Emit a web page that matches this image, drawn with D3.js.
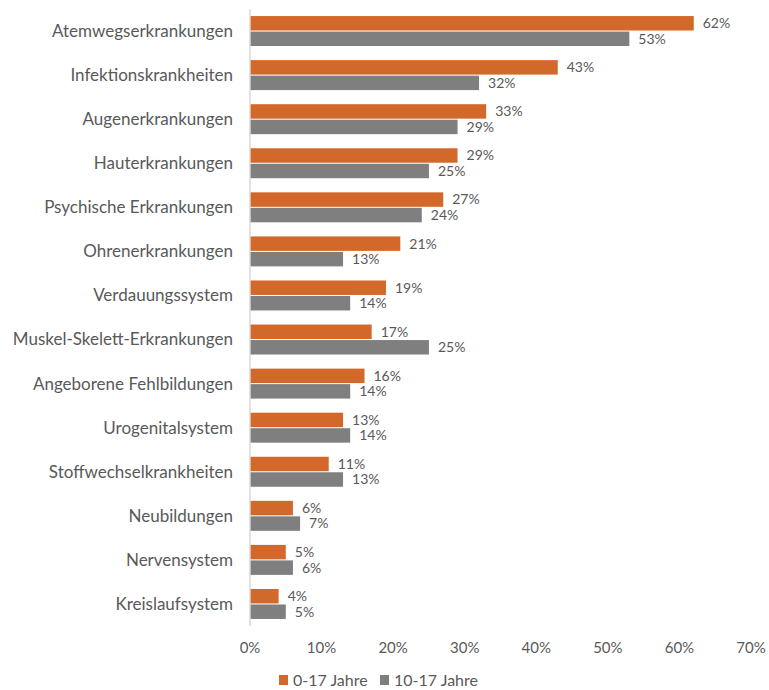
<!DOCTYPE html>
<html>
<head>
<meta charset="utf-8">
<script src="https://cdn.jsdelivr.net/npm/d3@7"></script>
<style>
  body { margin: 0; background: #fff; }
  text { font-family: Lato, "Open Sans", sans-serif; }
</style>
</head>
<body>
<svg width="769" height="690"></svg>
<script>
// categories, top to bottom
const categories = [
  'Atemwegserkrankungen', 'Infektionskrankheiten', 'Augenerkrankungen', 'Hauterkrankungen',
  'Psychische Erkrankungen', 'Ohrenerkrankungen', 'Verdauungssystem', 'Muskel-Skelett-Erkrankungen',
  'Angeborene Fehlbildungen', 'Urogenitalsystem', 'Stoffwechselkrankheiten', 'Neubildungen',
  'Nervensystem', 'Kreislaufsystem'
];
const seriesNames = ['0-17 Jahre', '10-17 Jahre'];
const values0to17 = [62, 43, 33, 29, 27, 21, 19, 17, 16, 13, 11, 6, 5, 4];
const values10to17 = [53, 32, 29, 25, 24, 13, 14, 25, 14, 14, 13, 7, 6, 5];
const xTicks = [0, 10, 20, 30, 40, 50, 60, 70];

const colors = ['#D2692B', '#7F7F7F'];
const textColor = '#595959';

const data = categories.map((c, i) => ({
  cat: c,
  vals: [
    { s: seriesNames[0], v: values0to17[i] },
    { s: seriesNames[1], v: values10to17[i] }
  ]
}));

const svg = d3.select('svg');

const x = d3.scaleLinear().domain([0, 70]).range([250, 751]);
const y = d3.scaleBand().domain(categories).range([9, 626]).paddingInner(0.32).paddingOuter(0.16);
const ySub = d3.scaleBand().domain(seriesNames).range([0, y.bandwidth()]).paddingInner(0.067);

// bars
const groups = svg.selectAll('g.cat')
  .data(data)
  .join('g')
  .attr('class', 'cat')
  .attr('transform', (d) => `translate(0,${y(d.cat)})`);

groups.selectAll('rect')
  .data((d) => d.vals)
  .join('rect')
  .attr('x', x(0))
  .attr('y', (d) => ySub(d.s))
  .attr('width', (d) => x(d.v) - x(0))
  .attr('height', ySub.bandwidth())
  .attr('fill', (d, i) => colors[i]);

groups.selectAll('text.val')
  .data((d) => d.vals)
  .join('text')
  .attr('class', 'val')
  .attr('x', (d) => x(d.v) + 9)
  .attr('y', (d) => ySub(d.s) + ySub.bandwidth() / 2)
  .attr('dy', '0.35em')
  .attr('fill', textColor)
  .style('font-size', '14px')
  .text((d) => d.v + '%');

// category labels
svg.append('g')
  .selectAll('text')
  .data(categories)
  .join('text')
  .attr('x', 233)
  .attr('y', (d) => y(d) + y.bandwidth() / 2)
  .attr('dy', '0.35em')
  .attr('text-anchor', 'end')
  .attr('fill', textColor)
  .style('font-size', '17px')
  .text((d) => d);

// vertical axis line
svg.append('line')
  .attr('x1', x(0)).attr('x2', x(0))
  .attr('y1', 9).attr('y2', 626)
  .attr('stroke', '#D9D9D9')
  .attr('stroke-width', 1.5);

// x tick labels
svg.append('g')
  .selectAll('text')
  .data(xTicks)
  .join('text')
  .attr('x', (d) => x(d))
  .attr('y', 648)
  .attr('dy', '0.35em')
  .attr('text-anchor', 'middle')
  .attr('fill', textColor)
  .style('font-size', '15px')
  .text((d) => d + '%');

// legend
const legendX = [279, 380];
const legend = svg.append('g')
  .selectAll('g')
  .data(seriesNames)
  .join('g')
  .attr('transform', (d, i) => `translate(${legendX[i]},675)`);

legend.append('rect')
  .attr('width', 9)
  .attr('height', 10)
  .attr('fill', (d, i) => colors[i]);

legend.append('text')
  .attr('x', 14)
  .attr('y', 5)
  .attr('dy', '0.35em')
  .attr('fill', textColor)
  .style('font-size', '16px')
  .text((d) => d);
</script>
</body>
</html>
